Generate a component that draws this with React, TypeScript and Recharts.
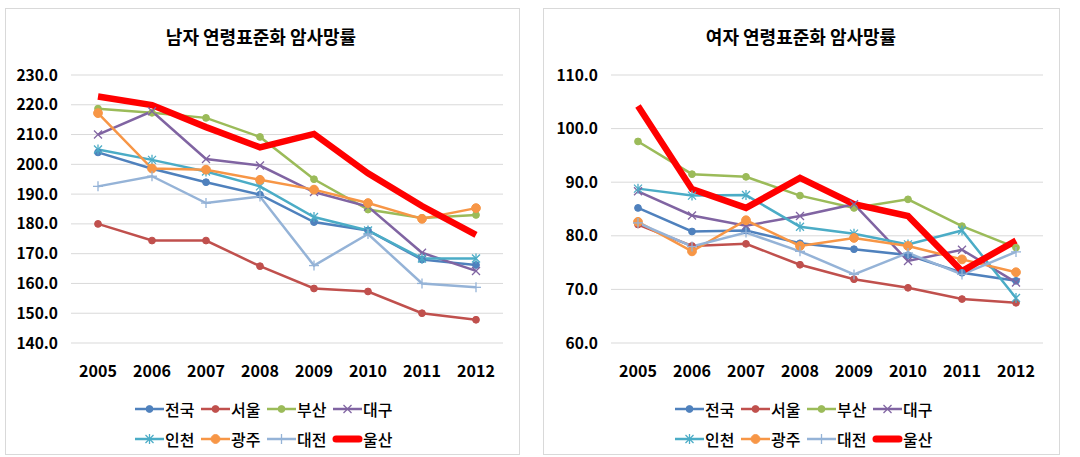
import React from "react";
import { LineChart, Line, XAxis, YAxis, CartesianGrid } from "recharts";

const FONT = '"Noto Sans CJK KR", "Noto Sans", sans-serif';

const years = ["2005", "2006", "2007", "2008", "2009", "2010", "2011", "2012"];
const regions = ["전국", "서울", "부산", "대구", "인천", "광주", "대전", "울산"];

// 남자
const maleNation = [204.0, 198.5, 194.0, 189.8, 180.6, 177.8, 168.0, 166.2];
const maleSeoul = [180.0, 174.4, 174.4, 165.8, 158.3, 157.3, 150.0, 147.8];
const maleBusan = [218.7, 217.3, 215.6, 209.2, 195.0, 184.8, 182.0, 183.0];
const maleDaegu = [210.0, 217.8, 201.8, 199.6, 190.7, 185.8, 170.3, 164.2];
const maleIncheon = [205.0, 201.5, 197.6, 192.6, 182.3, 177.8, 168.4, 168.4];
const maleGwangju = [217.2, 198.6, 198.2, 194.8, 191.5, 187.0, 181.7, 185.3];
const maleDaejeon = [192.6, 196.0, 187.0, 189.2, 166.0, 176.6, 160.0, 158.7];
const maleUlsan = [222.8, 219.9, 212.5, 205.7, 210.2, 197.0, 186.0, 176.3];
const maleTicks = [140, 150, 160, 170, 180, 190, 200, 210, 220, 230];

// 여자
const femaleNation = [85.2, 80.8, 81.0, 78.6, 77.5, 76.4, 73.1, 71.6];
const femaleSeoul = [82.1, 78.1, 78.5, 74.6, 71.9, 70.3, 68.2, 67.5];
const femaleBusan = [97.6, 91.5, 91.0, 87.5, 85.2, 86.8, 81.8, 77.8];
const femaleDaegu = [88.3, 83.8, 81.9, 83.7, 85.9, 75.3, 77.4, 71.3];
const femaleIncheon = [88.8, 87.5, 87.6, 81.7, 80.4, 78.4, 81.0, 68.4];
const femaleGwangju = [82.6, 77.1, 82.9, 78.1, 79.6, 78.1, 75.6, 73.2];
const femaleDaejeon = [82.4, 78.0, 80.6, 77.1, 72.8, 76.8, 72.8, 77.0];
const femaleUlsan = [104.2, 88.7, 85.2, 90.8, 85.9, 83.7, 73.4, 79.1];
const femaleTicks = [60, 70, 80, 90, 100, 110];

type Kind = "circle" | "x" | "star" | "plus" | "none";

const styles: { color: string; kind: Kind; width: number; r: number }[] = [
  { color: "#4f81bd", kind: "circle", width: 2.5, r: 3.4 },
  { color: "#c0504d", kind: "circle", width: 2.5, r: 3.4 },
  { color: "#9bbb59", kind: "circle", width: 2.5, r: 3.4 },
  { color: "#8064a2", kind: "x", width: 2.5, r: 4 },
  { color: "#4bacc6", kind: "star", width: 2.5, r: 4 },
  { color: "#f79646", kind: "circle", width: 2.5, r: 4.4 },
  { color: "#95b3d7", kind: "plus", width: 2.5, r: 5 },
  { color: "#ff0000", kind: "none", width: 6.5, r: 0 },
];

function buildRows(series: number[][]) {
  return years.map((year, i) => {
    const row: Record<string, string | number> = { year };
    regions.forEach((name, j) => {
      row[name] = series[j][i];
    });
    return row;
  });
}

const maleRows = buildRows([maleNation, maleSeoul, maleBusan, maleDaegu, maleIncheon, maleGwangju, maleDaejeon, maleUlsan]);
const femaleRows = buildRows([femaleNation, femaleSeoul, femaleBusan, femaleDaegu, femaleIncheon, femaleGwangju, femaleDaejeon, femaleUlsan]);

function Marker({ cx, cy, kind, color, r }: { cx: number; cy: number; kind: Kind; color: string; r: number }) {
  if (kind === "circle") return <circle cx={cx} cy={cy} r={r} fill={color} stroke={color} strokeWidth={1} />;
  if (kind === "x")
    return (
      <g stroke={color} strokeWidth={1.3}>
        <line x1={cx - r} y1={cy - r} x2={cx + r} y2={cy + r} />
        <line x1={cx - r} y1={cy + r} x2={cx + r} y2={cy - r} />
      </g>
    );
  if (kind === "star")
    return (
      <g stroke={color} strokeWidth={1.3}>
        <line x1={cx - r} y1={cy - r} x2={cx + r} y2={cy + r} />
        <line x1={cx - r} y1={cy + r} x2={cx + r} y2={cy - r} />
        <line x1={cx} y1={cy - r - 1} x2={cx} y2={cy + r + 1} />
      </g>
    );
  if (kind === "plus")
    return (
      <g stroke={color} strokeWidth={1.3}>
        <line x1={cx - r} y1={cy} x2={cx + r} y2={cy} />
        <line x1={cx} y1={cy - r} x2={cx} y2={cy + r} />
      </g>
    );
  return null;
}

function Legend() {
  return (
    <div
      style={{
        position: "absolute",
        left: 134,
        top: 394,
        display: "grid",
        gridTemplateColumns: "repeat(4, 66px)",
        gridAutoRows: "30px",
        fontFamily: FONT,
        fontSize: 16,
        fontWeight: 500,
        color: "#000",
      }}
    >
      {regions.map((name, i) => {
        const s = styles[i];
        return (
          <div key={name} style={{ display: "flex", alignItems: "center", whiteSpace: "nowrap" }}>
            <svg width={31} height={14} style={{ display: "block" }}>
              <line
                x1={s.kind === "none" ? 4 : 1}
                y1={7}
                x2={s.kind === "none" ? 27 : 30}
                y2={7}
                stroke={s.color}
                strokeWidth={s.kind === "none" ? 7 : s.width}
                strokeLinecap={s.kind === "none" ? "round" : "butt"}
              />
              <Marker cx={15.5} cy={7} kind={s.kind} color={s.color} r={s.r} />
            </svg>
            <span>{name}</span>
          </div>
        );
      })}
    </div>
  );
}

function Panel({
  left,
  boxLeft,
  boxWidth,
  title,
  rows,
  ticks,
}: {
  left: number;
  boxLeft: number;
  boxWidth: number;
  title: string;
  rows: Record<string, string | number>[];
  ticks: number[];
}) {
  return (
    <div style={{ position: "absolute", left, top: 0, width: 540, height: 457 }}>
      <div
        style={{
          position: "absolute",
          left: boxLeft,
          top: 8,
          width: boxWidth,
          height: 447,
          border: "1px solid #d9d9d9",
          boxSizing: "border-box",
        }}
      />
      <div
        style={{
          position: "absolute",
          left: 61,
          width: 400,
          top: 23,
          textAlign: "center",
          fontFamily: FONT,
          fontSize: 18,
          fontWeight: "bold",
          color: "#000",
          lineHeight: "26px",
        }}
      >
        {title}
      </div>
      <LineChart width={540} height={457} data={rows} margin={{ top: 75, right: 37, left: 11, bottom: 84 }}>
        <CartesianGrid vertical={false} stroke="#d9d9d9" strokeWidth={1} />
        <XAxis
          dataKey="year"
          axisLine={false}
          tickLine={false}
          tickMargin={17}
          height={30}
          padding={{ left: 27, right: 27 }}
          interval={0}
          tick={{ fill: "#000", fontSize: 16, fontWeight: "bold", fontFamily: FONT }}
        />
        <YAxis
          width={60}
          domain={[ticks[0], ticks[ticks.length - 1]]}
          ticks={ticks}
          interval={0}
          axisLine={false}
          tickLine={false}
          tickMargin={7}
          tickFormatter={(v: number) => v.toFixed(1)}
          tick={{ fill: "#000", fontSize: 15.5, fontWeight: "bold", fontFamily: FONT }}
        />
        {regions.map((name, i) => {
          const s = styles[i];
          return (
            <Line
              key={name}
              type="linear"
              dataKey={name}
              stroke={s.color}
              strokeWidth={s.width}
              isAnimationActive={false}
              activeDot={false}
              dot={(p: any) => (
                <Marker key={`${name}-${p.index}`} cx={p.cx} cy={p.cy} kind={s.kind} color={s.color} r={s.r} />
              )}
            />
          );
        })}
      </LineChart>
      <Legend />
    </div>
  );
}

export default function App() {
  return (
    <div style={{ position: "absolute", left: 0, top: 0, width: 1080, height: 457, background: "#fff" }}>
      <Panel left={0} boxLeft={5} boxWidth={515} title="남자 연령표준화 암사망률" rows={maleRows} ticks={maleTicks} />
      <Panel left={540} boxLeft={3} boxWidth={517} title="여자 연령표준화 암사망률" rows={femaleRows} ticks={femaleTicks} />
    </div>
  );
}
